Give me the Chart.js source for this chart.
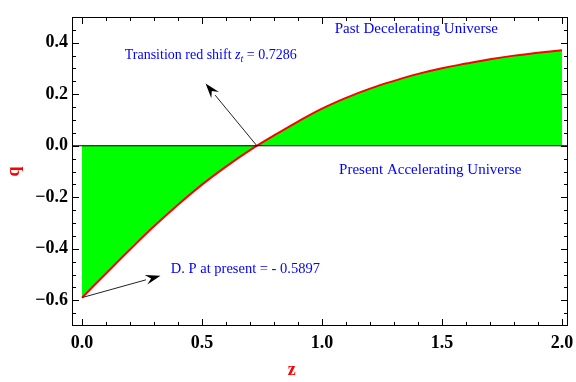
<!DOCTYPE html>
<html>
<head>
<meta charset="utf-8">
<script src="https://cdn.jsdelivr.net/npm/chart.js@4/dist/chart.umd.min.js"></script>
<style>
  html, body { margin: 0; padding: 0; background: #fff; }
  #wrap { width: 576px; height: 382px; }
</style>
</head>
<body>
<div id="wrap"><canvas id="c" width="576" height="382"></canvas></div>
<script>
// redshift z and deceleration parameter q
const zValues = [0, 0.1, 0.2, 0.3, 0.4, 0.5, 0.6, 0.7, 0.8, 0.9, 1.0,
                 1.1, 1.2, 1.3, 1.4, 1.5, 1.6, 1.7, 1.8, 1.9, 2.0];
const qValues = [-0.590, -0.496, -0.403, -0.313, -0.229, -0.151, -0.081, -0.017, 0.040, 0.094, 0.144,
                 0.186, 0.222, 0.252, 0.279, 0.301, 0.319, 0.336, 0.350, 0.361, 0.371];

const xTicks = [0, 0.5, 1.0, 1.5, 2.0];
const yTicks = [-0.6, -0.4, -0.2, 0.0, 0.2, 0.4];
const xMinor = [0.1, 0.2, 0.3, 0.4, 0.6, 0.7, 0.8, 0.9, 1.1, 1.2, 1.3, 1.4, 1.6, 1.7, 1.8, 1.9];
const yMinor = [-0.65, -0.55, -0.5, -0.45, -0.35, -0.3, -0.25, -0.15, -0.1, -0.05,
                0.05, 0.1, 0.15, 0.25, 0.3, 0.35, 0.45];

// annotations: text anchored in data coordinates
const notes = [
  { z: 1.053, q: 0.452, size: 15, parts: [["Past Decelerating Universe", ""]] },
  { z: 0.178, q: 0.352, size: 14, parts: [["Transition red shift ", ""], ["z", "italic"], ["t", "sub"], [" = 0.7286", ""]] },
  { z: 1.071, q: -0.093, size: 15, parts: [["Present Accelerating Universe", ""]] },
  { z: 0.370, q: -0.481, size: 14.5, parts: [["D. P at present = - 0.5897", ""]] }
];
const arrows = [
  { from: [0.7286, 0.0], to: [0.515, 0.2415] },
  { from: [0.0, -0.5897], to: [0.327, -0.505] }
];

const SERIF = "'Liberation Serif', 'Times New Roman', serif";

const framePlugin = {
  id: "frame",
  afterDatasetsDraw(chart) {
    const { ctx, chartArea: a, scales: { x, y } } = chart;
    ctx.save();
    // zero line
    ctx.strokeStyle = "#000";
    ctx.lineWidth = 1.2;
    ctx.beginPath();
    ctx.moveTo(a.left, y.getPixelForValue(0));
    ctx.lineTo(a.right, y.getPixelForValue(0));
    ctx.stroke();

    // frame
    ctx.lineWidth = 1;
    ctx.strokeRect(a.left + 0.5, a.top + 0.5, a.right - a.left - 1, a.bottom - a.top - 1);

    // inward ticks on all four sides
    ctx.beginPath();
    const tickX = (v, len) => {
      const px = Math.round(x.getPixelForValue(v)) + 0.5;
      ctx.moveTo(px, a.bottom); ctx.lineTo(px, a.bottom - len);
      ctx.moveTo(px, a.top); ctx.lineTo(px, a.top + len);
    };
    const tickY = (v, len) => {
      const py = Math.round(y.getPixelForValue(v)) + 0.5;
      ctx.moveTo(a.left, py); ctx.lineTo(a.left + len, py);
      ctx.moveTo(a.right, py); ctx.lineTo(a.right - len, py);
    };
    xTicks.forEach(v => tickX(v, 7));
    xMinor.forEach(v => tickX(v, 4));
    yTicks.forEach(v => tickY(v, 7));
    yMinor.forEach(v => tickY(v, 4));
    ctx.stroke();

    // arrows
    arrows.forEach(ar => {
      const x0 = x.getPixelForValue(ar.from[0]), y0 = y.getPixelForValue(ar.from[1]);
      const x1 = x.getPixelForValue(ar.to[0]), y1 = y.getPixelForValue(ar.to[1]);
      const ang = Math.atan2(y1 - y0, x1 - x0);
      const hl = 15, hw = 5;
      const bx = x1 - hl * Math.cos(ang), by = y1 - hl * Math.sin(ang);
      ctx.strokeStyle = "#222";
      ctx.lineWidth = 1;
      ctx.beginPath();
      ctx.moveTo(x0, y0); ctx.lineTo(bx, by);
      ctx.stroke();
      ctx.fillStyle = "#000";
      ctx.beginPath();
      ctx.moveTo(x1, y1);
      ctx.lineTo(bx + hw * Math.sin(ang), by - hw * Math.cos(ang));
      ctx.lineTo(bx + 0.35 * hl * Math.cos(ang), by + 0.35 * hl * Math.sin(ang));
      ctx.lineTo(bx - hw * Math.sin(ang), by + hw * Math.cos(ang));
      ctx.closePath();
      ctx.fill();
    });

    // text notes
    ctx.fillStyle = "#0000ff";
    ctx.textBaseline = "middle";
    ctx.textAlign = "left";
    notes.forEach(n => {
      let px = x.getPixelForValue(n.z);
      const py = y.getPixelForValue(n.q);
      n.parts.forEach(([txt, style]) => {
        let dy = 0;
        if (style === "italic") ctx.font = "italic " + n.size + "px " + SERIF;
        else if (style === "sub") { ctx.font = "italic 10px " + SERIF; dy = 4; }
        else ctx.font = n.size + "px " + SERIF;
        ctx.fillText(txt, px, py + dy);
        px += ctx.measureText(txt).width;
      });
    });

    // x axis title, sits left of the frame centre as in the original
    ctx.fillStyle = "#ff0000";
    ctx.font = "bold 18px " + SERIF;
    ctx.textAlign = "center";
    ctx.fillText("z", x.getPixelForValue(0.874), 370);
    ctx.restore();
  }
};

const fmt = v => {
  const s = Math.abs(v).toFixed(1);
  return v < -1e-9 ? "\u2212" + s : s;
};

new Chart(document.getElementById("c"), {
  type: "line",
  data: {
    datasets: [{
      data: zValues.map((z, i) => ({ x: z, y: qValues[i] })),
      borderColor: "#ff0000",
      borderWidth: 2,
      backgroundColor: "#00ff00",
      fill: "origin",
      pointRadius: 0,
      tension: 0.4
    }]
  },
  options: {
    responsive: false,
    animation: false,
    events: [],
    layout: { padding: { top: 17, right: 8, left: 0, bottom: 0 } },
    plugins: { legend: { display: false }, tooltip: { enabled: false } },
    scales: {
      x: {
        type: "linear",
        min: -0.0417,
        max: 2.025,
        afterBuildTicks: s => { s.ticks = xTicks.map(v => ({ value: v })); },
        afterFit: s => { s.height = 56; s.paddingLeft = 0; s.paddingRight = 0; },
        grid: { display: false, drawTicks: false },
        border: { display: false },
        ticks: {
          padding: 7,
          color: "#000",
          font: { family: SERIF, size: 18, weight: "bold" },
          callback: v => fmt(v),
          maxRotation: 0
        }
      },
      y: {
        type: "linear",
        min: -0.7,
        max: 0.5,
        afterBuildTicks: s => { s.ticks = yTicks.map(v => ({ value: v })); },
        afterFit: s => { s.width = 72; s.paddingTop = 0; s.paddingBottom = 0; },
        grid: { display: false, drawTicks: false },
        border: { display: false },
        ticks: {
          padding: 4,
          color: "#000",
          font: { family: SERIF, size: 18, weight: "bold" },
          callback: v => fmt(v)
        },
        title: {
          display: true,
          text: "q",
          color: "#ff0000",
          padding: { top: 4, bottom: 4 },
          font: { family: SERIF, size: 18, weight: "bold" }
        }
      }
    }
  },
  plugins: [framePlugin]
});
</script>
</body>
</html>
